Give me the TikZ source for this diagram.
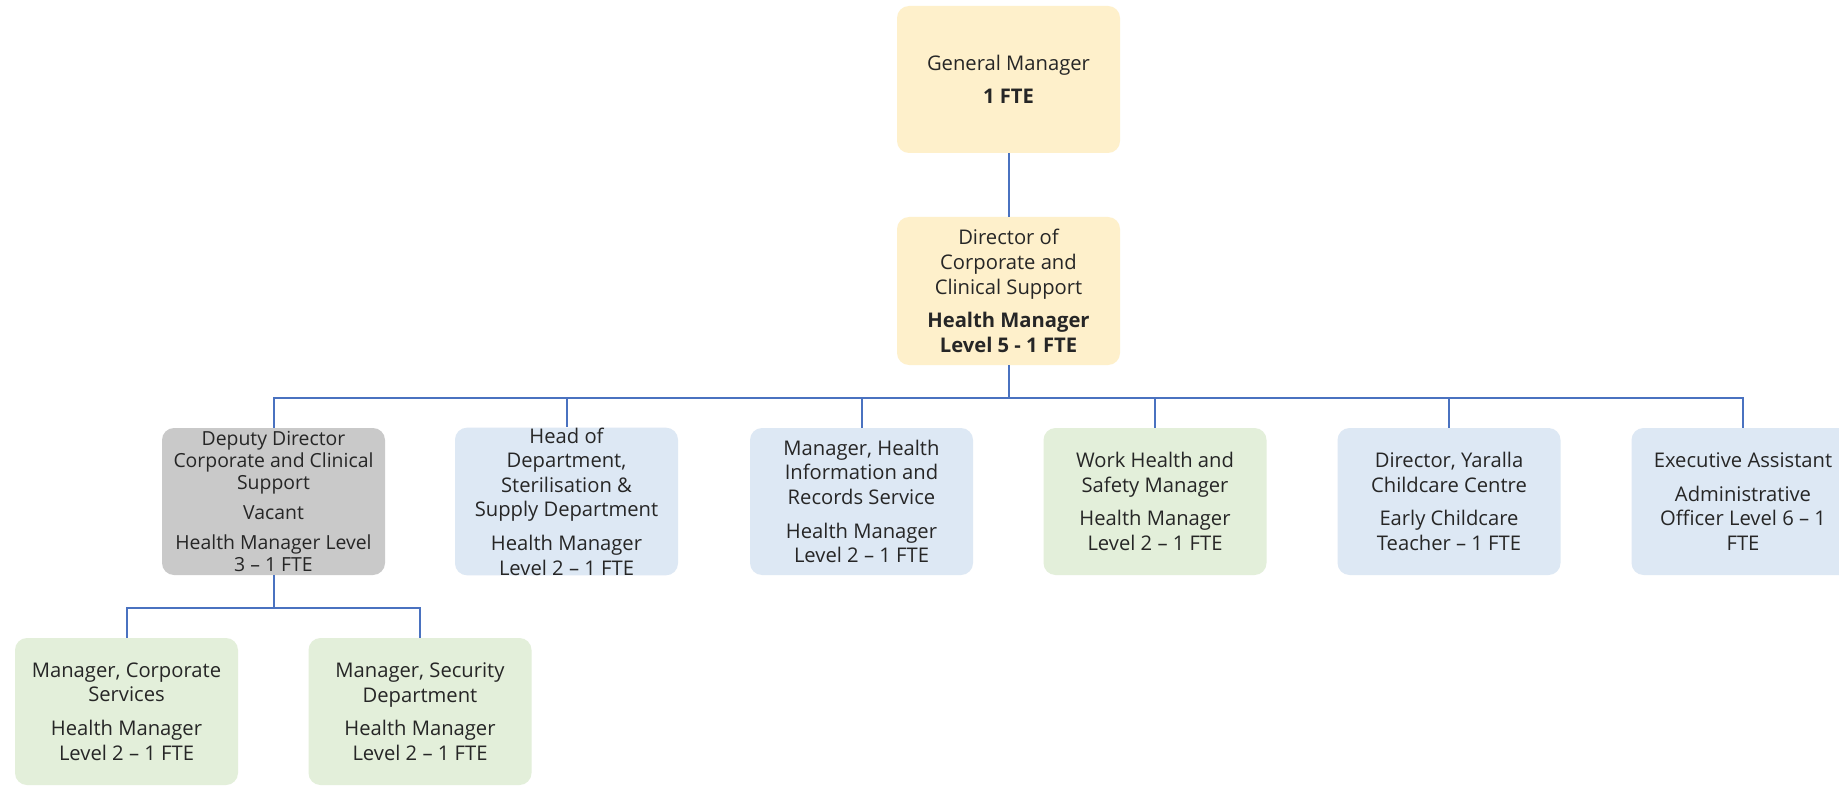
\documentclass[tikz,border=0pt]{standalone}
\usepackage{fontspec}
\setmainfont{Open Sans}
\definecolor{yel}{HTML}{FEF0CB}
\definecolor{blu}{HTML}{DDE8F4}
\definecolor{grn}{HTML}{E3EFDA}
\definecolor{gry}{HTML}{C9C9C9}
\definecolor{lin}{HTML}{4A72C0}
\definecolor{txt}{HTML}{262626}
\tikzset{
  box/.style={rounded corners=12pt, minimum width=223pt, minimum height=147pt,
    align=center, inner sep=0pt, text=txt, font=\fontsize{20.2}{24.6}\selectfont},
  conn/.style={draw=lin, line width=2pt}
}
\begin{document}
\begin{tikzpicture}[x=1pt,y=-1pt]
\useasboundingbox (0,0) rectangle (1839,786);
\clip (0,0) rectangle (1839,786);
\fill[white] (0,0) rectangle (1839,786);
\node[box, fill=yel] (gm) at (1008.5,79.5) {General Manager\\[9pt]\textbf{1 FTE}};
\node[box, fill=yel, minimum height=148pt] (dir) at (1008.5,291) {Director of\\Corporate and\\Clinical Support\\[9pt]\textbf{Health Manager}\\\textbf{Level 5 - 1 FTE}};
\node[box, fill=gry, font=\fontsize{19.4}{22}\selectfont] (b1) at (273.5,501.5) {Deputy Director\\Corporate and Clinical\\Support\\[8pt]Vacant\\[8pt]Health Manager Level\\3 -- 1 FTE};
\node[box, fill=blu] (b2) at (566.5,501.5) {Head of\\Department,\\Sterilisation \&\\Supply Department\\[9pt]Health Manager\\Level 2 -- 1 FTE};
\node[box, fill=blu] (b3) at (861.5,501.5) {Manager, Health\\Information and\\Records Service\\[9pt]Health Manager\\Level 2 -- 1 FTE};
\node[box, fill=grn] (b4) at (1155,501.5) {Work Health and\\Safety Manager\\[9pt]Health Manager\\Level 2 -- 1 FTE};
\node[box, fill=blu] (b5) at (1449,501.5) {Director, Yaralla\\Childcare Centre\\[9pt]Early Childcare\\Teacher -- 1 FTE};
\node[box, fill=blu] (b6) at (1743,501.5) {Executive Assistant\\[9pt]Administrative\\Officer Level 6 -- 1\\FTE};
\node[box, fill=grn] (b7) at (126.5,711.5) {Manager, Corporate\\Services\\[9pt]Health Manager\\Level 2 -- 1 FTE};
\node[box, fill=grn] (b8) at (420,711.5) {Manager, Security\\Department\\[9pt]Health Manager\\Level 2 -- 1 FTE};
\coordinate (bus) at (0,398);
\coordinate (sub) at (0,607.5);
\draw[conn] (gm.south) -- (dir.north);
\foreach \c in {b1,b2,b3,b4,b5,b6}{
  \draw[conn] (dir.south) |- (\c.north |- bus) -- (\c.north);
}
\foreach \c in {b7,b8}{
  \draw[conn] (b1.south) |- (\c.north |- sub) -- (\c.north);
}
\end{tikzpicture}
\end{document}
